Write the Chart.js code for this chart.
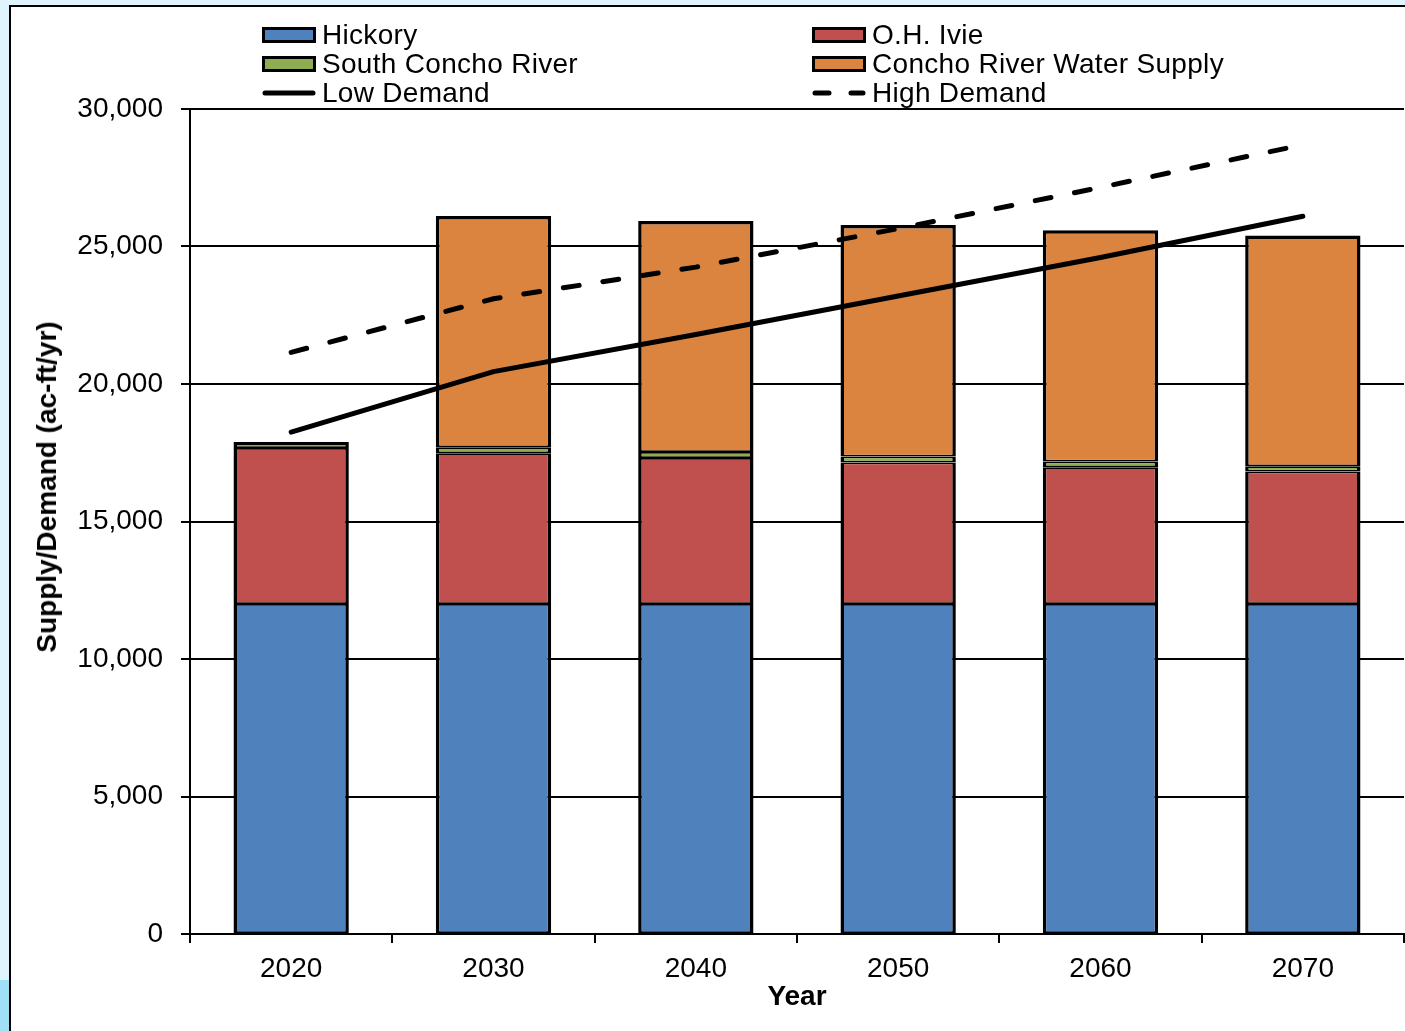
<!DOCTYPE html>
<html lang="en">
<head>
<meta charset="UTF-8">
<title>Supply/Demand</title>
<script src="https://cdn.jsdelivr.net/npm/chart.js"></script>
<style>
    html, body {
        margin: 0;
        padding: 0;
        width: 1405px;
        height: 1031px;
        overflow: hidden;
        background: #dff4fc;
        font-family: "Liberation Sans", Arial, sans-serif;
    }
    .strip {
        position: absolute;
        left: 0; top: 980px;
        width: 9px; height: 51px;
        background: #a0e0f6;
    }
    .frame {
        position: absolute;
        left: 9px; top: 5px;
        width: 1400px; height: 1040px;
        background: #fff;
        border-left: 2px solid #000;
        border-top: 2px solid #000;
    }
    #wrap {
        position: absolute;
        left: 0; top: 0;
        width: 1405px; height: 1031px;
    }
    .leg {
        position: absolute;
        height: 29px;
        display: flex;
        align-items: center;
        font-size: 28px;
        letter-spacing: 0.3px;
        color: #000;
        white-space: nowrap;
    }
    .leg .sw {
        width: 54px;
        height: 16px;
        box-sizing: border-box;
        border: 3px solid #000;
        margin-right: 6px;
    }
    .leg canvas { margin-right: 6px; }
    #tituloY {
        position: absolute;
        left: 47px; top: 487px;
        transform: translate(-50%, -50%) rotate(-90deg);
        font-size: 28px;
        font-weight: bold;
        white-space: nowrap;
        color: #000;
    }
</style>
</head>
<body>
<div class="strip"></div>
<div class="frame"></div>
<div id="wrap"><canvas id="grafico" width="1405" height="1031"></canvas></div>
<div id="legenda"></div>
<div id="tituloY">Supply/Demand (ac-ft/yr)</div>

<script>
// dados
const anos = ['2020', '2030', '2040', '2050', '2060', '2070'];
const hickory = [12000, 12000, 12000, 12000, 12000, 12000];
const ohIvie = [5670, 5480, 5310, 5150, 4970, 4820];
const southConcho = [220, 220, 215, 215, 215, 190];
const conchoRiver = [null, 8410, 8405, 8415, 8410, 8390];
const lowDemand = [18250, 20450, 21800, 23200, 24600, 26100];
const highDemand = [21150, 23100, 24250, 25650, 27150, 28700];
const yTicks = [0, 5000, 10000, 15000, 20000, 25000, 30000];

const barras = [
    { label: 'Hickory', data: hickory, cor: '#4f81bd' },
    { label: 'O.H. Ivie', data: ohIvie, cor: '#c0504d' },
    { label: 'South Concho River', data: southConcho, cor: '#8fac50' },
    { label: 'Concho River Water Supply', data: conchoRiver, cor: '#db843f' }
];

// borda de cima mais grossa so no topo da pilha
function bordaBarra(ctx) {
    const i = ctx.dataIndex;
    let topo = -1;
    barras.forEach((b, k) => { if (b.data[i] != null && b.data[i] > 0) topo = k; });
    return { left: 3.5, right: 3.5, bottom: 1.75, top: ctx.datasetIndex === topo ? 3.5 : 1.75 };
}

const datasets = barras.map(b => ({
    type: 'bar',
    label: b.label,
    data: b.data,
    backgroundColor: b.cor,
    borderColor: '#000',
    borderWidth: bordaBarra,
    borderSkipped: false,
    barPercentage: 0.57,
    categoryPercentage: 1.0,
    stack: 'oferta',
    order: 1
}));

datasets.push({
    type: 'line',
    label: 'Low Demand',
    data: lowDemand,
    borderColor: '#000',
    borderWidth: 5,
    borderCapStyle: 'round',
    borderJoinStyle: 'round',
    pointRadius: 0,
    fill: false,
    tension: 0,
    stack: 'low',
    order: 0
});
datasets.push({
    type: 'line',
    label: 'High Demand',
    data: highDemand,
    borderColor: '#000',
    borderWidth: 5,
    borderDash: [16, 24],
    borderCapStyle: 'round',
    borderJoinStyle: 'round',
    pointRadius: 0,
    fill: false,
    tension: 0,
    stack: 'high',
    order: 0
});

const fonte = { family: '"Liberation Sans", Arial, sans-serif', size: 28 };

new Chart(document.getElementById('grafico'), {
    data: { labels: anos, datasets: datasets },
    options: {
        responsive: false,
        animation: false,
        layout: { padding: { top: 109, right: 1, bottom: 0, left: 0 } },
        plugins: { legend: { display: false }, tooltip: { enabled: false } },
        scales: {
            x: {
                stacked: true,
                grid: { drawOnChartArea: false, drawTicks: true, tickLength: 9, color: '#000', lineWidth: 2, offset: true },
                border: { display: true, color: '#000', width: 2 },
                ticks: { color: '#000', font: fonte, padding: 9, maxRotation: 0 },
                title: { display: true, text: 'Year', color: '#000', font: { ...fonte, weight: 'bold' }, padding: { top: 0, bottom: 17 } },
                afterFit: function(scale) { scale.height = 97; }
            },
            y: {
                stacked: true,
                min: 0,
                max: 30000,
                afterBuildTicks: function(scale) { scale.ticks = yTicks.map(v => ({ value: v })); },
                grid: { color: '#000', lineWidth: 2, tickLength: 9 },
                border: { display: true, color: '#000', width: 2 },
                ticks: {
                    color: '#000',
                    font: fonte,
                    padding: 18,
                    callback: function(value) { return value.toLocaleString('en-US'); }
                },
                title: { display: false },
                afterFit: function(scale) { scale.width = 190; }
            }
        }
    }
});

// legenda em duas colunas
const legenda = document.getElementById('legenda');
const posicoes = [[262, 20], [812, 20], [262, 49], [812, 49]];
barras.forEach((b, k) => {
    const el = document.createElement('div');
    el.className = 'leg';
    el.style.left = posicoes[k][0] + 'px';
    el.style.top = posicoes[k][1] + 'px';
    el.innerHTML = `<div class="sw" style="background:${b.cor}"></div><span>${b.label}</span>`;
    legenda.appendChild(el);
});
[['Low Demand', 262, null], ['High Demand', 812, [14, 22]]].forEach(([txt, x, dash]) => {
    const el = document.createElement('div');
    el.className = 'leg';
    el.style.left = x + 'px';
    el.style.top = '78px';
    const c = document.createElement('canvas');
    c.width = 54; c.height = 16;
    const g = c.getContext('2d');
    g.strokeStyle = '#000';
    g.lineWidth = 5;
    g.lineCap = 'round';
    if (dash) g.setLineDash(dash);
    g.beginPath();
    g.moveTo(3, 8);
    g.lineTo(51, 8);
    g.stroke();
    el.appendChild(c);
    const s = document.createElement('span');
    s.textContent = txt;
    el.appendChild(s);
    legenda.appendChild(el);
});
</script>
</body>
</html>
